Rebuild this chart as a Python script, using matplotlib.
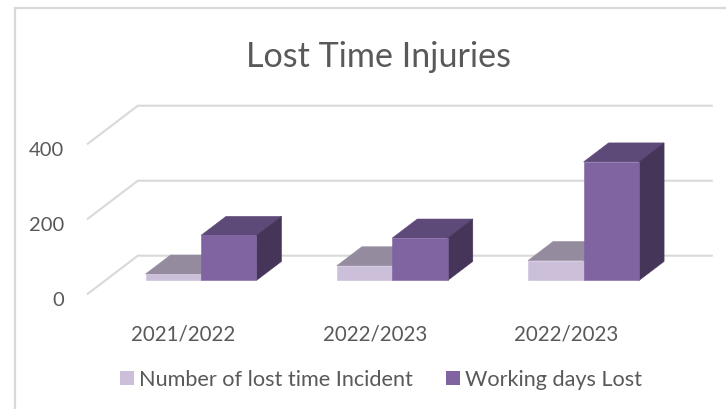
"""Lost Time Injuries: hand-built 3D clustered columns on a plain 2D axes."""
import matplotlib
matplotlib.use("Agg")
import matplotlib.pyplot as plt
from matplotlib.patches import Patch, Polygon

categories = ["2021/2022", "2022/2023", "2022/2023"]
incidents = [17, 39, 53]
days_lost = [120, 113, 316]
y_ticks = [0, 200, 400]
series_names = ["Number of lost time Incident", "Working days Lost"]

# front, top and side face colours per series
LIGHT = ("#CBBFDA", "#958B9F", "#958B9F")
DARK = ("#8064A2", "#5E4A78", "#453559")
TEXT = "#595959"
GRID = "#D9D9D9"

# one depth unit in axes data coordinates (50 px across, 38 px up)
DX = 50 / 191.3
DY = 38 / 0.375
BAR_W = 0.29
BAR_Z0, BAR_Z1 = 0.35, 0.85

plt.rcParams["font.family"] = ["Lato", "DejaVu Sans"]


def proj(x, v, z):
    return x + z * DX, v + z * DY


def draw_bar(ax, x0, x1, v, cols):
    front, top, side = cols
    z0, z1 = BAR_Z0, BAR_Z1
    ax.add_patch(Polygon([proj(x0, v, z0), proj(x1, v, z0), proj(x1, v, z1), proj(x0, v, z1)],
                         fc=top, ec=top, lw=0.4, zorder=3))
    ax.add_patch(Polygon([proj(x1, 0, z0), proj(x1, 0, z1), proj(x1, v, z1), proj(x1, v, z0)],
                         fc=side, ec=side, lw=0.4, zorder=3))
    ax.add_patch(Polygon([proj(x0, 0, z0), proj(x1, 0, z0), proj(x1, v, z0), proj(x0, v, z0)],
                         fc=front, ec=front, lw=0.4, zorder=4))


fig = plt.figure(figsize=(7.26, 4.10), dpi=100)
ax = fig.add_axes([0, 0, 1, 1])
ax.set_xlim(-183.5 / 191.3, (726 - 183.5) / 191.3)
ax.set_ylim(-115.3 / 0.375, 294.7 / 0.375)
ax.axis("off")

# chart frame: only the top and left edges fall inside the crop
fig.add_artist(plt.Line2D([14.5 / 726, 14.5 / 726, 1], [0, 1 - 9 / 410, 1 - 9 / 410],
                          transform=fig.transFigure, color=GRID, lw=1.6,
                          solid_joinstyle="miter"))

for v in y_ticks:
    xs, ys = zip(proj(-0.5, v, 0), proj(-0.5, v, 1), proj(2.5, v, 1))
    ax.plot(xs, ys, color=GRID, lw=1.5, zorder=1, solid_joinstyle="miter")
    ax.text(-0.503 - 0.12, v - 15, str(v), ha="right", va="center", fontsize=14.5, color=TEXT)

for i, cat in enumerate(categories):
    draw_bar(ax, i - BAR_W, i, incidents[i], LIGHT)
    draw_bar(ax, i, i + BAR_W, days_lost[i], DARK)
    ax.text(i, -105, cat, ha="center", va="center", fontsize=14.8, color=TEXT)

ax.text(378 / 726, 1 - 57 / 410, "Lost Time Injuries", transform=ax.transAxes,
        ha="center", va="center", fontsize=24.6, color=TEXT)

handles = [Patch(fc=LIGHT[0], label=series_names[0]), Patch(fc=DARK[0], label=series_names[1])]
ax.legend(handles=handles, loc="center", bbox_to_anchor=(381 / 726, 1 - 380.5 / 410), ncols=2,
          frameon=False, fontsize=15.6, labelcolor=TEXT, handlelength=0.65, handleheight=0.65,
          handletextpad=0.23, columnspacing=1.5)

fig.savefig("out.png", dpi=100)
